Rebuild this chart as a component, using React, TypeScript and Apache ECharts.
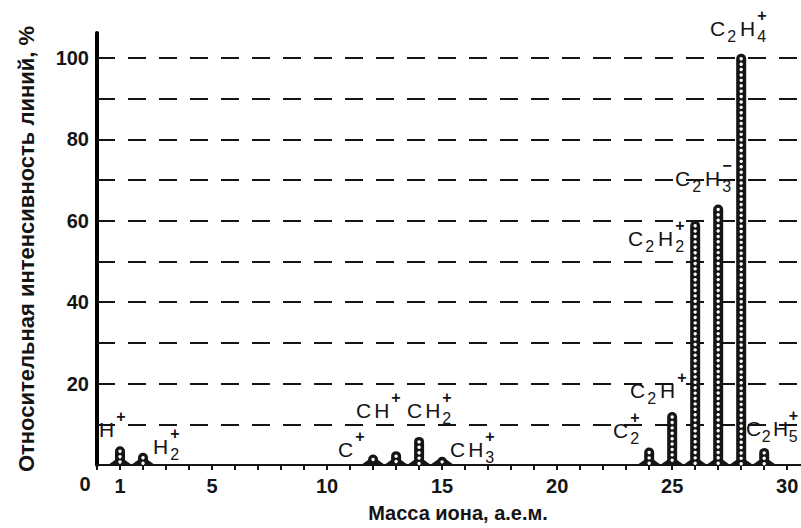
import React, { useEffect, useRef } from "react";
import * as echarts from "echarts";

// ---- data ----
const ionMasses = [1, 2, 12, 13, 14, 15, 24, 25, 26, 27, 28, 29];
const intensities = [4.6, 3, 2.6, 3.4, 6.9, 2, 4.3, 13, 60, 64, 101, 4.2];
const xTickLabels = [1, 5, 10, 15, 20, 25, 30];
const yTickLabels = [20, 40, 60, 80, 100];
// ion labels: base letters, sub / sup indices
type Part = { t?: string; sub?: string; sup?: string };
const ionLabelParts: Part[][] = [
  [{ t: "H" }, { sup: "+" }],
  [{ t: "H" }, { sub: "2", sup: "+" }],
  [{ t: "C" }, { sup: "+" }],
  [{ t: "C" }, { t: "H" }, { sup: "+" }],
  [{ t: "C" }, { t: "H" }, { sub: "2", sup: "+" }],
  [{ t: "C" }, { t: "H" }, { sub: "3", sup: "+" }],
  [{ t: "C" }, { sub: "2", sup: "+" }],
  [{ t: "C" }, { sub: "2" }, { t: "H" }, { sup: "+" }],
  [{ t: "C" }, { sub: "2" }, { t: "H" }, { sub: "2", sup: "+" }],
  [{ t: "C" }, { sub: "2" }, { t: "H" }, { sub: "3", sup: "−" }],
  [{ t: "C" }, { sub: "2" }, { t: "H" }, { sub: "4", sup: "+" }],
  [{ t: "C" }, { sub: "2" }, { t: "H" }, { sub: "5", sup: "+" }],
];
// label anchor (left x, cap-centre y) in pixels — layout only
const labelAnchors: [number, number][] = [
  [99, 429], [153, 446], [338, 449], [356, 410], [407, 410], [450, 449],
  [613, 430], [630, 390], [628, 238], [675, 178], [710, 28], [746, 428],
];

const FONT_AXIS = '"Liberation Sans", Arial, sans-serif';
const FONT_LABEL = '"Liberation Sans", Arial, sans-serif';
const INK = "#151515";

function measure(text: string, font: string): number {
  const c = document.createElement("canvas").getContext("2d")!;
  c.font = font;
  return c.measureText(text).width;
}

function buildLabel(parts: Part[], x0: number, yc: number, gap: number): any[] {
  const baseFont = `21px ${FONT_LABEL}`;
  const idxFont = `16px ${FONT_LABEL}`;
  const supFont = `bold 16px ${FONT_LABEL}`;
  const out: any[] = [];
  let x = x0;
  parts.forEach((p) => {
    if (p.t) {
      out.push({ type: "text", x, y: yc, style: { text: p.t, font: baseFont, fill: INK, verticalAlign: "middle", align: "left" } });
      x += measure(p.t, baseFont) + gap;
    } else {
      let w = 0;
      if (p.sub) {
        out.push({ type: "text", x: x - 1, y: yc + 8, style: { text: p.sub, font: idxFont, fill: INK, verticalAlign: "middle", align: "left" } });
        w = Math.max(w, measure(p.sub, idxFont));
      }
      if (p.sup) {
        out.push({ type: "text", x: x - 1, y: yc - 13, style: { text: p.sup, font: supFont, fill: INK, verticalAlign: "middle", align: "left" } });
        w = Math.max(w, measure(p.sup, supFont));
      }
      x += w + gap;
    }
  });
  return out;
}

export default function App() {
  const ref = useRef<HTMLDivElement>(null);
  useEffect(() => {
    if (!ref.current) return;
    const chart = echarts.init(ref.current, null, { renderer: "svg" });
    const labelGraphics: any[] = [];
    ionLabelParts.forEach((parts, i) => {
      const gap = i === ionLabelParts.length - 1 ? 1.5 : 3;
      labelGraphics.push(...buildLabel(parts, labelAnchors[i][0], labelAnchors[i][1], gap));
    });
    labelGraphics.push({
      type: "text", x: 85, y: 484,
      style: { text: "0", font: `bold 20px ${FONT_AXIS}`, fill: INK, align: "center", verticalAlign: "middle" },
    });
    chart.setOption({
      animation: false,
      backgroundColor: "#ffffff",
      grid: { left: 97, right: 0, top: 33, bottom: 63, outerBoundsMode: "none", containLabel: false },
      xAxis: {
        type: "value",
        min: 0,
        max: 30.6,
        interval: 1,
        name: "Масса иона, а.е.м.",
        nameLocation: "middle",
        nameGap: 38,
        nameTextStyle: { fontFamily: FONT_AXIS, fontSize: 20, fontWeight: "bold", color: INK, padding: [0, 0, 0, 18] },
        axisLine: { onZero: false, lineStyle: { color: INK, width: 2 } },
        axisTick: { inside: false, length: 5, lineStyle: { color: INK, width: 2 } },
        axisLabel: {
          margin: 11, fontFamily: FONT_AXIS, fontSize: 20, fontWeight: "bold", color: INK, showMaxLabel: false,
          formatter: (v: number) => (xTickLabels.includes(v) ? String(v) : ""),
        },
        splitLine: { show: false },
      },
      yAxis: {
        type: "value",
        position: "left",
        min: 0,
        max: 106.1,
        interval: 10,
        name: "Относительная интенсивность линий, %",
        nameLocation: "middle",
        nameGap: 60,
        nameRotate: 90,
        nameTextStyle: { fontFamily: FONT_AXIS, fontSize: 22, fontWeight: "bold", color: INK },
        axisLine: { show: true, onZero: false, lineStyle: { color: "#000000", width: 4 } },
        axisTick: { show: true, inside: true, length: 8, lineStyle: { color: INK, width: 2 } },
        axisLabel: {
          margin: 8, fontFamily: FONT_AXIS, fontSize: 20, fontWeight: "bold", color: INK, showMaxLabel: false,
          formatter: (v: number) => (yTickLabels.includes(v) ? String(v) : ""),
        },
        splitLine: { show: true, showMaxLine: false, lineStyle: { color: INK, width: 2, type: [18, 13] } },
      },
      series: [
        {
          type: "custom",
          data: ionMasses.map((m, i) => [m, intensities[i]]),
          renderItem: (params: any, api: any) => {
            const m = api.value(0);
            const v = api.value(1);
            const [x, y0] = api.coord([m, 0]);
            const y1 = api.coord([m, v])[1];
            const w = 10;
            const h = y0 - y1;
            const children: any[] = [
              { type: "polygon", shape: { points: [[x - 12, y0], [x - 5, y0 - 5], [x + 5, y0 - 5], [x + 12, y0]] }, style: { fill: INK } },
              { type: "rect", shape: { x: x - w / 2, y: y1, width: w, height: h, r: [5, 5, 0, 0] }, style: { fill: INK } },
            ];
            for (let yy = y1 + 5; yy < y0 - 1; yy += 5.4) {
              children.push({ type: "circle", shape: { cx: x, cy: yy, r: 1.7 }, style: { fill: "#ffffff" } });
            }
            return { type: "group", children };
          },
        },
      ],
      graphic: labelGraphics,
    });
    return () => chart.dispose();
  }, []);
  return <div ref={ref} style={{ position: "absolute", left: 0, top: 0, width: 801, height: 528, background: "#fff" }} />;
}
